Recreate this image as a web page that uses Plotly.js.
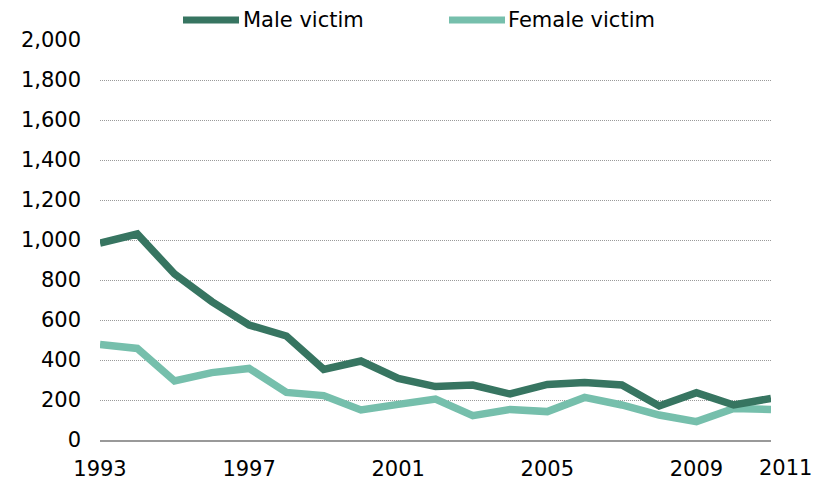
<!DOCTYPE html>
<html>
<head>
<meta charset="utf-8">
<script src="https://cdn.plot.ly/plotly-3.0.1.min.js"></script>
<style>
  html, body { margin: 0; padding: 0; background: #fff; }
  #chart { width: 822px; height: 480px; }
</style>
</head>
<body>
<div id="chart"></div>
<script>
var years = [1993, 1994, 1995, 1996, 1997, 1998, 1999, 2000, 2001, 2002,
             2003, 2004, 2005, 2006, 2007, 2008, 2009, 2010, 2011];
var maleVictim = [985, 1030, 830, 692, 575, 520, 353, 395, 308, 267,
                  275, 230, 278, 287, 275, 170, 237, 175, 208];
var femaleVictim = [478, 458, 295, 337, 358, 238, 222, 150, 178, 205,
                    122, 153, 142, 213, 175, 125, 92, 158, 153];
var tickYears = [1993, 1997, 2001, 2005, 2009];
var lastTickYear = 2011;
var seriesNames = ['Male victim', 'Female victim'];

var C_MALE = '#377561';
var C_FEMALE = '#76bfac';
var FONT = 'DejaVu Sans, Verdana, sans-serif';
var FS = 21;

var traceMale = {
  x: years,
  y: maleVictim,
  mode: 'lines',
  name: seriesNames[0],
  line: {color: C_MALE, width: 7.5},
  hoverinfo: 'skip'
};

var traceFemale = {
  x: years,
  y: femaleVictim,
  mode: 'lines',
  name: seriesNames[1],
  line: {color: C_FEMALE, width: 7.5},
  hoverinfo: 'skip'
};

// plot area spans x 100..771, y 40..440 px; legend is drawn by hand above it
function px(x) { return (x - 100) / 671; }
function py(y) { return (440 - y) / 400; }

var layout = {
  width: 822,
  height: 480,
  margin: {l: 100, r: 51, t: 40, b: 40},
  paper_bgcolor: 'white',
  plot_bgcolor: 'white',
  showlegend: false,
  font: {family: FONT, size: FS, color: '#000'},
  xaxis: {
    range: [years[0], years[years.length - 1]],
    tickvals: tickYears,
    ticktext: tickYears.map(String),
    ticks: '',
    showgrid: false,
    zeroline: false,
    showline: true,
    linecolor: '#999',
    linewidth: 2,
    ticklabelstandoff: 9,
    tickfont: {family: FONT, size: FS, color: '#000'}
  },
  yaxis: {
    range: [0, 2000],
    dtick: 200,
    tickformat: ',d',
    ticks: '',
    showgrid: true,
    gridcolor: '#9a9a9a',
    griddash: '1px,1px',
    gridwidth: 1,
    zeroline: false,
    showline: false,
    ticklabelstandoff: 18,
    tickfont: {family: FONT, size: FS, color: '#000'}
  },
  shapes: [
    {type: 'line', xref: 'paper', yref: 'paper', x0: px(183), x1: px(239), y0: py(20), y1: py(20),
     line: {color: C_MALE, width: 7}},
    {type: 'line', xref: 'paper', yref: 'paper', x0: px(449), x1: px(505), y0: py(20), y1: py(20),
     line: {color: C_FEMALE, width: 7}}
  ],
  annotations: [
    {xref: 'paper', yref: 'paper', x: px(241), y: py(20), xanchor: 'left', yanchor: 'middle',
     text: seriesNames[0], showarrow: false, font: {family: FONT, size: FS, color: '#000'}},
    {xref: 'paper', yref: 'paper', x: px(506), y: py(20), xanchor: 'left', yanchor: 'middle',
     text: seriesNames[1], showarrow: false, font: {family: FONT, size: FS, color: '#000'}},
    // last year label sits a little right of its tick in the original
    {xref: 'x', yref: 'paper', x: lastTickYear, y: 0, xanchor: 'center', yanchor: 'top',
     xshift: 14, yshift: -14, text: String(lastTickYear), showarrow: false,
     font: {family: FONT, size: FS, color: '#000'}}
  ]
};

var config = {displayModeBar: false, staticPlot: true};

Plotly.newPlot('chart', [traceFemale, traceMale], layout, config);
</script>
</body>
</html>
